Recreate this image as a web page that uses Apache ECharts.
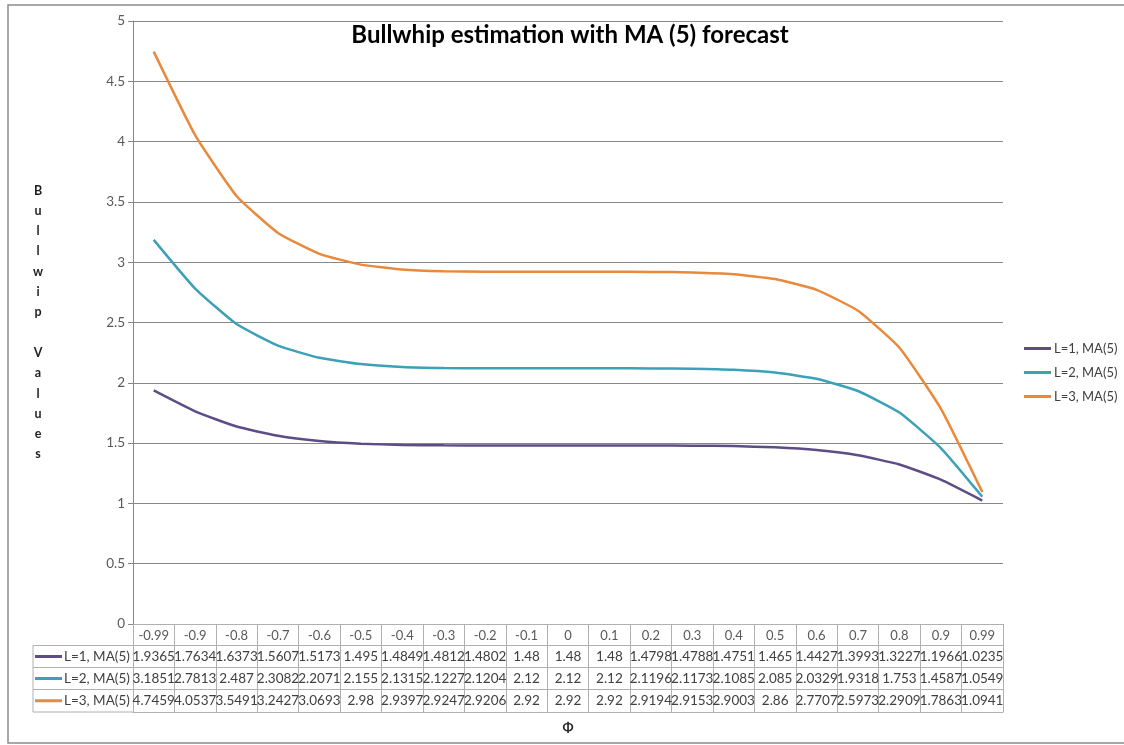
<!DOCTYPE html>
<html>
<head>
<meta charset="utf-8">
<script src="https://cdn.jsdelivr.net/npm/echarts@6/dist/echarts.min.js"></script>
<style>
  html, body { margin: 0; padding: 0; background: #fff; }
  #chart { width: 1124px; height: 745px; }
</style>
</head>
<body>
<div id="chart"></div>
<script>
// phi values (table header / x categories)
var phiLabels = ['-0.99', '-0.9', '-0.8', '-0.7', '-0.6', '-0.5', '-0.4', '-0.3', '-0.2', '-0.1', '0',
  '0.1', '0.2', '0.3', '0.4', '0.5', '0.6', '0.7', '0.8', '0.9', '0.99']
var seriesNames = ['L=1, MA(5)', 'L=2, MA(5)', 'L=3, MA(5)']
var valuesL1 = [1.9365, 1.7634, 1.6373, 1.5607, 1.5173, 1.495, 1.4849, 1.4812, 1.4802, 1.48, 1.48,
  1.48, 1.4798, 1.4788, 1.4751, 1.465, 1.4427, 1.3993, 1.3227, 1.1966, 1.0235]
var valuesL2 = [3.1851, 2.7813, 2.487, 2.3082, 2.2071, 2.155, 2.1315, 2.1227, 2.1204, 2.12, 2.12,
  2.12, 2.1196, 2.1173, 2.1085, 2.085, 2.0329, 1.9318, 1.753, 1.4587, 1.0549]
var valuesL3 = [4.7459, 4.0537, 3.5491, 3.2427, 3.0693, 2.98, 2.9397, 2.9247, 2.9206, 2.92, 2.92,
  2.92, 2.9194, 2.9153, 2.9003, 2.86, 2.7707, 2.5973, 2.2909, 1.7863, 1.0941]
var yTicks = { min: 0, max: 5, interval: 0.5 }

var allValues = [valuesL1, valuesL2, valuesL3]
var colors = ['#5e4c86', '#3ba0b8', '#e8893b']
var font = 'Lato, "Open Sans", sans-serif'

// layout of the plot and the data table under it
var gridLeft = 133
var gridTop = 21
var gridBottom = 121
var chartH = 745
var axisY = chartH - gridBottom
var rowOffsets = [21.5, 43.5, 65.5, 88]
var tableLeft = 33
var gridLine = '#888888'
var tableLine = '#b0b0b0'

var xAxes = [{
  type: 'category',
  data: phiLabels,
  position: 'bottom',
  boundaryGap: true,
  name: 'Φ',
  nameLocation: 'middle',
  nameGap: 97,
  nameTextStyle: { fontFamily: font, fontSize: 13, fontWeight: 'bold', color: '#262626' },
  axisLine: { lineStyle: { color: tableLine } },
  axisTick: { show: true, interval: 0, length: rowOffsets[3], lineStyle: { color: tableLine } },
  axisLabel: { interval: 0, margin: 5, fontFamily: font, fontSize: 13, color: '#595959' }
}]
rowOffsets.forEach(function (off, r) {
  var vals = allValues[r]
  xAxes.push({
    type: 'category',
    data: phiLabels,
    position: 'bottom',
    offset: off,
    axisLine: { show: true, lineStyle: { color: tableLine } },
    axisTick: { show: false },
    axisLabel: {
      show: !!vals,
      interval: 0,
      margin: 4,
      fontFamily: font,
      fontSize: 13.5,
      color: '#404040',
      formatter: function (v, i) { return vals ? String(vals[i]) : '' }
    }
  })
})

// left column of the table: legend keys and series names
var tableGraphics = []
var rowEdges = [axisY].concat(rowOffsets.map(function (o) { return axisY + o }))
rowEdges.slice(1).forEach(function (y) {
  tableGraphics.push({ type: 'line', shape: { x1: tableLeft, y1: y, x2: gridLeft, y2: y }, style: { stroke: tableLine, lineWidth: 1 } })
})
tableGraphics.push({ type: 'line', shape: { x1: tableLeft, y1: rowEdges[1], x2: tableLeft, y2: rowEdges[4] }, style: { stroke: tableLine, lineWidth: 1 } })
seriesNames.forEach(function (name, r) {
  var cy = (rowEdges[r + 1] + rowEdges[r + 2]) / 2
  tableGraphics.push({ type: 'line', shape: { x1: tableLeft + 2, y1: cy, x2: tableLeft + 29, y2: cy }, style: { stroke: colors[r], lineWidth: 3 } })
  tableGraphics.push({ type: 'text', x: tableLeft + 31, y: cy, style: { text: name, font: '13.5px ' + font, fill: '#404040', verticalAlign: 'middle' } })
})

var chart = echarts.init(document.getElementById('chart'))
chart.setOption({
  backgroundColor: '#fff',
  animation: false,
  color: colors,
  title: {
    text: 'Bullwhip estimation with MA (5) forecast',
    left: 565,
    textAlign: 'center',
    top: 18,
    textStyle: { fontFamily: font, fontSize: 24, fontWeight: 'bold', color: '#000' }
  },
  legend: {
    orient: 'vertical',
    left: 1024,
    top: 342,
    padding: 0,
    icon: 'rect',
    itemWidth: 27,
    itemHeight: 3,
    itemGap: 11,
    data: seriesNames,
    textStyle: { fontFamily: font, fontSize: 13, color: '#404040', padding: [0, 0, 0, -2] }
  },
  grid: { left: gridLeft, right: 121, top: gridTop, bottom: gridBottom },
  xAxis: xAxes,
  yAxis: {
    type: 'value',
    min: yTicks.min,
    max: yTicks.max,
    interval: yTicks.interval,
    name: 'Bullwip Values'.split('').join('\n'),
    nameLocation: 'middle',
    nameRotate: 0,
    nameGap: 95,
    nameTextStyle: { fontFamily: font, fontSize: 12.5, fontWeight: 'bold', color: '#1f1f1f', lineHeight: 20.3, align: 'center', padding: [6, 0, 0, 0] },
    axisLine: { show: true, lineStyle: { color: gridLine } },
    axisTick: { show: true, length: 5, lineStyle: { color: gridLine } },
    axisLabel: { margin: 8, fontFamily: font, fontSize: 13.5, color: '#595959' },
    splitLine: { lineStyle: { color: gridLine, width: 1 } }
  },
  graphic: [{
    type: 'rect',
    shape: { x: 8, y: 5, width: 1140, height: 738 },
    style: { fill: 'none', stroke: '#8c8c8c', lineWidth: 1.5 },
    silent: true
  }].concat(tableGraphics),
  series: allValues.map(function (vals, i) {
    return {
      name: seriesNames[i],
      type: 'line',
      data: vals,
      smooth: 0.15,
      symbol: 'none',
      lineStyle: { width: 2.5, color: colors[i] }
    }
  })
})
</script>
</body>
</html>
